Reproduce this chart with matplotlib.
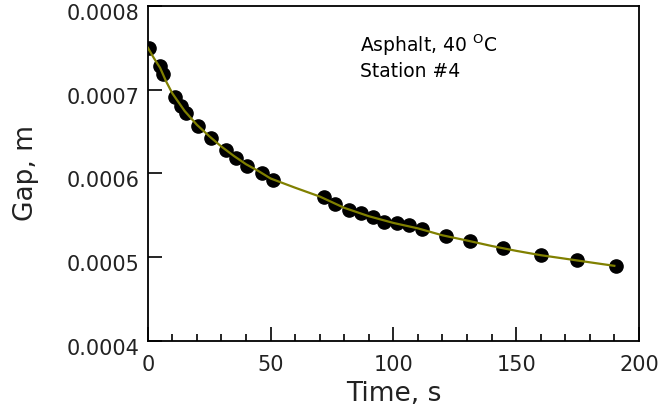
import numpy as np
import matplotlib
matplotlib.use('Agg')
import matplotlib.pyplot as plt
import matplotlib.transforms as mtransforms
from matplotlib.ticker import MultipleLocator

# measured points (time in s, gap in m)
time_s = [0.5, 4.9, 6.2, 11.0, 13.7, 15.4, 20.5, 25.9, 31.8, 36.1, 40.5, 46.6, 51.0,
          71.8, 76.3, 81.8, 86.8, 91.8, 96.3, 101.3, 106.3, 111.5, 121.3, 131.4,
          144.7, 160.1, 174.6, 190.6]
gap_m = [0.0007495, 0.0007287, 0.0007184, 0.0006910, 0.0006806, 0.0006719, 0.0006571,
         0.0006428, 0.0006281, 0.0006181, 0.0006093, 0.0006010, 0.0005922,
         0.0005718, 0.0005636, 0.0005570, 0.0005532, 0.0005484, 0.0005421, 0.0005405,
         0.0005381, 0.0005341, 0.0005254, 0.0005194, 0.0005107, 0.0005023, 0.0004967,
         0.0004896]

# fitted curve
fit_t = [0, 2.5, 5, 7.5, 10, 12.5, 15, 20, 25, 30, 35, 40, 45, 50, 60, 70, 80, 90,
         100, 110, 120, 130, 140, 150, 160, 170, 180, 190]
fit_gap = [0.0007500, 0.0007375, 0.0007260, 0.0007095, 0.0006955, 0.0006850, 0.0006745,
           0.0006580, 0.0006445, 0.0006320, 0.0006210, 0.0006110, 0.0006030, 0.0005940,
           0.0005830, 0.0005725, 0.0005590, 0.0005490, 0.0005410, 0.0005345, 0.0005262,
           0.0005200, 0.0005135, 0.0005077, 0.0005025, 0.0004983, 0.0004940, 0.0004898]

plt.rcParams['font.family'] = 'DejaVu Sans'
plt.rcParams['mathtext.fontset'] = 'custom'
plt.rcParams['mathtext.rm'] = 'DejaVu Sans'

fig = plt.figure(figsize=(6.6, 4.18), dpi=100)
ax = fig.add_axes([0.224, 0.184, 0.744, 0.802])

ax.plot(time_s, gap_m, 'o', color='black', markersize=9.5, zorder=2)
ax.plot(fit_t, fit_gap, '-', color='#808000', linewidth=1.6, zorder=3)

ax.set_xlim(0, 200)
ax.set_ylim(0.0004, 0.0008)
ax.xaxis.set_major_locator(MultipleLocator(50))
ax.xaxis.set_minor_locator(MultipleLocator(10))
ax.set_yticks([0.0004, 0.0005, 0.0006, 0.0007, 0.0008])
ax.set_yticklabels(['0.0004', '0.0005', '0.0006', '0.0007', '0.0008'])

ax.tick_params(which='major', direction='in', length=10, width=1.2, labelsize=15,
               top=False, right=False, labelcolor='#222222')
ax.tick_params(which='minor', direction='in', length=5, width=1.2, top=False, right=False)
ax.tick_params(axis='x', pad=10)
ax.tick_params(axis='y', pad=6)
for s in ax.spines.values():
    s.set_linewidth(1.3)

# y labels sit a little below their ticks in the original
shift = mtransforms.ScaledTranslation(0, -6 / 100, fig.dpi_scale_trans)
for lbl in ax.get_yticklabels():
    lbl.set_transform(lbl.get_transform() + shift)

ax.set_xlabel('Time, s', fontsize=19, labelpad=4, color='#222222')
ax.set_ylabel('Gap, m', fontsize=19, labelpad=20, color='#222222')

ax.text(86.5, 0.0007535, r'Asphalt, 40 $^{\mathrm{O}}$C', fontsize=13.5, va='center', ha='left')
ax.text(86.5, 0.0007215, 'Station #4', fontsize=13.5, va='center', ha='left')

fig.savefig('out.png', dpi=100)
